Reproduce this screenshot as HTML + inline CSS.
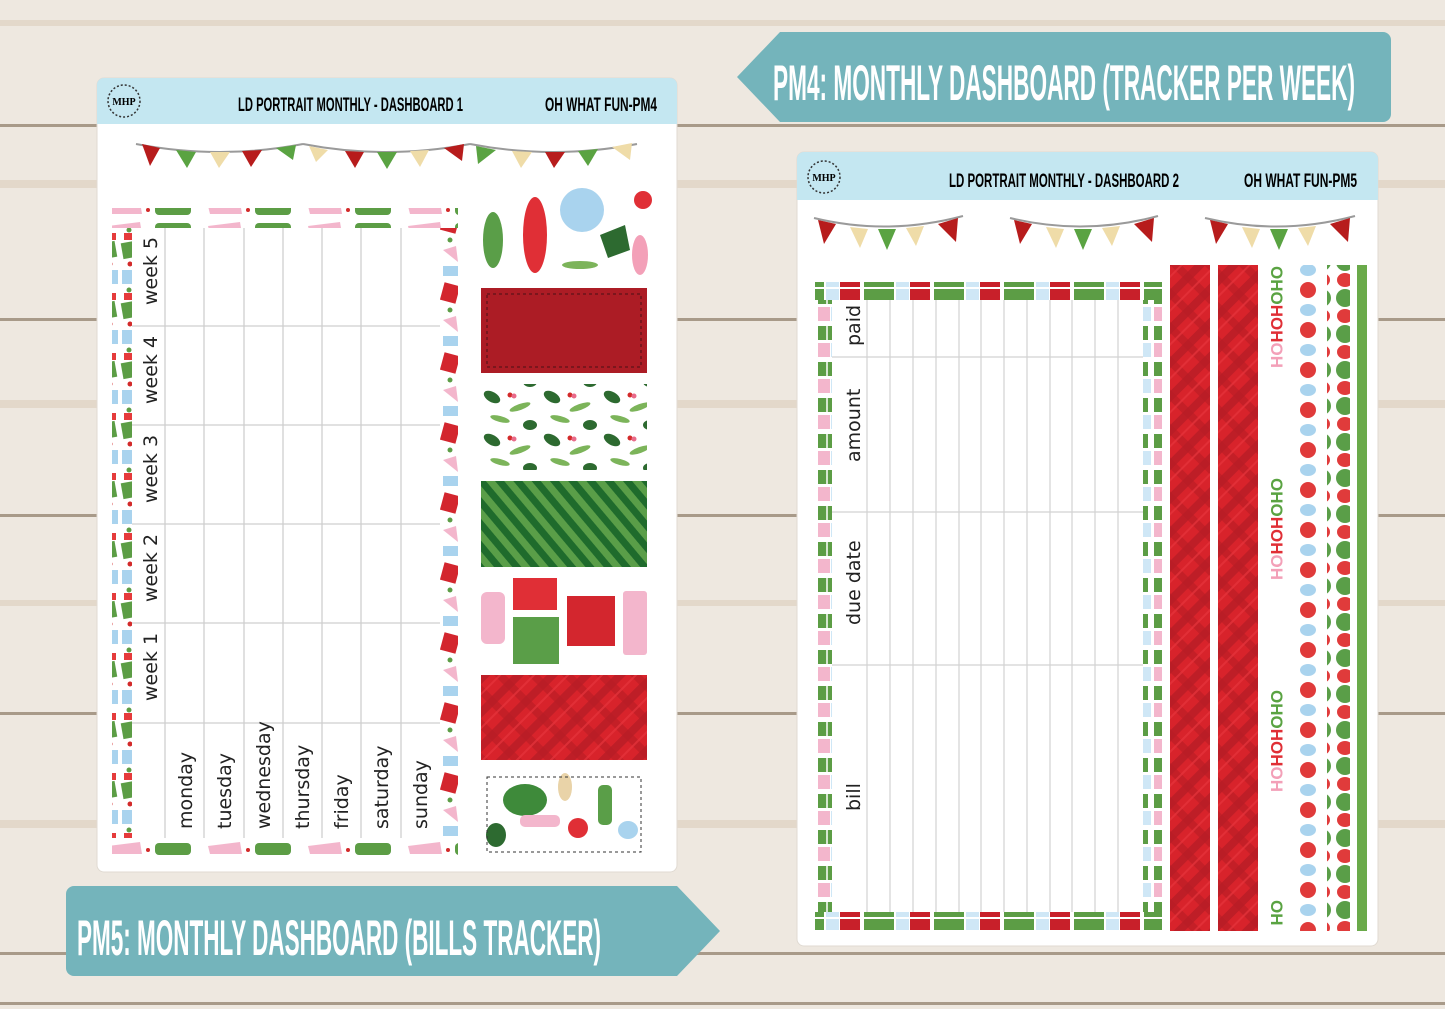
<!DOCTYPE html>
<html><head><meta charset="utf-8"><style>
html,body{margin:0;padding:0;background:#eee7dd}
svg{display:block}
.h{font-family:"Liberation Sans Narrow","Liberation Sans",sans-serif;}
.w{font-family:"DejaVu Sans","Liberation Sans",sans-serif;font-size:19px;fill:#222}
</style></head><body>
<svg width="1445" height="1009" viewBox="0 0 1445 1009" xmlns="http://www.w3.org/2000/svg">
<defs>
<pattern id="plaid" width="24" height="24" patternUnits="userSpaceOnUse" patternTransform="rotate(45)">
<rect width="24" height="24" fill="#d8232b"/>
<rect width="8" height="24" fill="#b81d25" opacity=".8"/>
<rect width="24" height="8" fill="#b81d25" opacity=".6"/>
<rect x="14" width="2" height="24" fill="#e8353c" opacity=".7"/>
</pattern>
<pattern id="stripe" width="14" height="14" patternUnits="userSpaceOnUse" patternTransform="rotate(-40)">
<rect width="14" height="14" fill="#5a9e48"/><rect width="7" height="14" fill="#1f6b2c"/>
</pattern>
<pattern id="holly" width="60" height="43" patternUnits="userSpaceOnUse">
<rect width="60" height="43" fill="#fff"/>
<ellipse cx="12" cy="10" rx="9" ry="5" fill="#2d6a30" transform="rotate(30 12 10)"/>
<ellipse cx="40" cy="20" rx="11" ry="3" fill="#7cb45a" transform="rotate(-20 40 20)"/>
<ellipse cx="20" cy="32" rx="10" ry="3" fill="#7cb45a" transform="rotate(15 20 32)"/>
<ellipse cx="50" cy="38" rx="7" ry="5" fill="#2d6a30"/>
<circle cx="30" cy="8" r="2.5" fill="#d32a2a"/><circle cx="34" cy="9" r="2.5" fill="#e96b8a"/>
</pattern>
<pattern id="gifts" width="24" height="36" patternUnits="userSpaceOnUse">
<rect width="24" height="36" fill="#fff"/>
<rect x="2" y="2" width="18" height="14" fill="#5c9d45"/>
<rect x="2" y="19" width="12" height="14" fill="#f3b6cc"/>
<rect x="15" y="19" width="8" height="14" fill="#cfe7f6"/>
<line x1="11" y1="2" x2="11" y2="16" stroke="#fff" stroke-width="1.5"/>
</pattern>
<pattern id="giftsH" width="70" height="18" patternUnits="userSpaceOnUse">
<rect width="70" height="18" fill="#fff"/>
<rect x="0" y="1" width="20" height="16" fill="#c8202a"/>
<rect x="24" y="1" width="30" height="16" fill="#5c9d45"/>
<rect x="56" y="1" width="13" height="16" fill="#cfe7f6"/>
</pattern>
<pattern id="confH" width="100" height="20" patternUnits="userSpaceOnUse">
<rect width="100" height="20" fill="#fff"/>
<path d="M8 6 L40 2 L42 14 L10 14 Z" fill="#f3b6cc"/>
<rect x="55" y="3" width="36" height="12" rx="4" fill="#5c9d45"/>
<circle cx="48" cy="10" r="2" fill="#d32a2a"/>
</pattern>
<pattern id="confV" width="20" height="60" patternUnits="userSpaceOnUse">
<rect width="20" height="60" fill="#fff"/>
<rect x="2" y="2" width="14" height="16" fill="#5c9d45" transform="rotate(-10 9 10)"/>
<circle cx="10" cy="24" r="2.5" fill="#d32a2a"/>
<rect x="2" y="30" width="16" height="14" fill="#a9d3ee"/>
<circle cx="9" cy="50" r="2.5" fill="#5c9d45"/>
<rect x="4" y="53" width="12" height="7" fill="#e53b3b"/>
</pattern>
<pattern id="confV2" width="20" height="70" patternUnits="userSpaceOnUse">
<rect width="20" height="70" fill="#fff"/>
<rect x="2" y="4" width="16" height="18" fill="#d3262e" transform="rotate(15 10 13)"/>
<circle cx="10" cy="30" r="2.5" fill="#5c9d45"/>
<path d="M3 40 L16 36 L18 52 Z" fill="#f3b6cc"/>
<rect x="3" y="56" width="15" height="10" fill="#a9d3ee"/>
</pattern>
<pattern id="orn" width="24" height="40" patternUnits="userSpaceOnUse">
<rect width="24" height="40" fill="#fff"/>
<circle cx="12" cy="10" r="8" fill="#e03b3b"/>
<ellipse cx="12" cy="30" rx="8" ry="6" fill="#a9d3ee"/>
</pattern>
<pattern id="holl2" width="23" height="36" patternUnits="userSpaceOnUse">
<rect width="23" height="36" fill="#fff"/>
<circle cx="11" cy="10" r="9" fill="#5a9e48"/>
<ellipse cx="11" cy="28" rx="8" ry="7" fill="#e03b3b"/>
</pattern>
</defs>

<rect width="1445" height="1009" fill="#eee8e0"/>
<g fill="#e3d8ca">
<rect y="20" width="1445" height="6"/><rect y="180" width="1445" height="8"/><rect y="400" width="1445" height="8"/><rect y="600" width="1445" height="6"/><rect y="820" width="1445" height="8"/>
</g>
<g fill="#a89a89">
<rect y="124" width="1445" height="3"/><rect y="318" width="1445" height="3"/><rect y="514" width="1445" height="3"/><rect y="712" width="1445" height="3"/><rect y="952" width="1445" height="3"/><rect y="1002" width="1445" height="3"/>
</g>

<rect x="97" y="78" width="580" height="794" rx="7" fill="#fff" stroke="#e0dad2"/>
<path d="M104 78 H670 a7 7 0 0 1 7 7 V124 H97 V85 a7 7 0 0 1 7 -7Z" fill="#c4e7f1"/>
<circle cx="124" cy="101" r="16" fill="none" stroke="#333" stroke-width="1.5" stroke-dasharray="2 2"/>
<text x="124" y="105" font-family="Liberation Serif" font-weight="bold" font-size="10" text-anchor="middle">MHP</text>
<text class="h" x="238" y="111" font-size="19" font-weight="bold" textLength="225" lengthAdjust="spacingAndGlyphs">LD PORTRAIT MONTHLY - DASHBOARD 1</text>
<text class="h" x="545" y="111" font-size="19" font-weight="bold" textLength="112" lengthAdjust="spacingAndGlyphs">OH WHAT FUN-PM4</text>

<g fill="none" stroke="#9a9a9a" stroke-width="2">
<path d="M136 144 Q220 160 303 144"/><path d="M303 144 Q386 160 470 144"/><path d="M470 144 Q553 160 637 144"/>
</g>
<g>
<polygon points="142,144 160,148 150,166" fill="#b71c1c"/>
<polygon points="176,150 196,152 187,168" fill="#5aa342"/>
<polygon points="210,152 230,152 219,168" fill="#efdca8"/>
<polygon points="242,151 262,150 251,167" fill="#b71c1c"/>
<polygon points="276,148 296,145 293,160" fill="#5aa342"/>
<polygon points="309,146 328,150 316,162" fill="#efdca8"/>
<polygon points="345,151 364,152 355,168" fill="#b71c1c"/>
<polygon points="377,152 397,152 387,169" fill="#5aa342"/>
<polygon points="410,151 429,150 420,167" fill="#efdca8"/>
<polygon points="444,148 464,144 462,161" fill="#b71c1c"/>
<polygon points="476,146 496,150 478,164" fill="#5aa342"/>
<polygon points="512,151 532,152 521,168" fill="#efdca8"/>
<polygon points="545,152 565,152 554,168" fill="#b71c1c"/>
<polygon points="578,151 598,149 588,166" fill="#5aa342"/>
<polygon points="612,147 632,143 630,160" fill="#efdca8"/>
</g>

<rect x="112" y="208" width="346" height="20" fill="url(#confH)"/>
<rect x="112" y="228" width="20" height="630" fill="url(#confV)"/>
<rect x="440" y="228" width="18" height="630" fill="url(#confV2)"/>
<rect x="112" y="838" width="346" height="20" fill="url(#confH)"/>
<rect x="132" y="228" width="308" height="610" fill="#fff"/>
<g stroke="#cfcfcf" stroke-width="1.3">
<line x1="165" y1="228" x2="165" y2="838"/><line x1="204" y1="228" x2="204" y2="838"/><line x1="244" y1="228" x2="244" y2="838"/><line x1="283" y1="228" x2="283" y2="838"/><line x1="322" y1="228" x2="322" y2="838"/><line x1="361" y1="228" x2="361" y2="838"/><line x1="401" y1="228" x2="401" y2="838"/>
<line x1="132" y1="326" x2="440" y2="326"/><line x1="132" y1="425" x2="440" y2="425"/><line x1="132" y1="524" x2="440" y2="524"/><line x1="132" y1="623" x2="440" y2="623"/><line x1="132" y1="723" x2="440" y2="723"/>
</g>
<g class="w">
<text transform="translate(157,305) rotate(-90)">week 5</text>
<text transform="translate(157,404) rotate(-90)">week 4</text>
<text transform="translate(157,503) rotate(-90)">week 3</text>
<text transform="translate(157,602) rotate(-90)">week 2</text>
<text transform="translate(157,701) rotate(-90)">week 1</text>
<text transform="translate(192,829) rotate(-90)">monday</text>
<text transform="translate(231,829) rotate(-90)">tuesday</text>
<text transform="translate(270,829) rotate(-90)">wednesday</text>
<text transform="translate(309,829) rotate(-90)">thursday</text>
<text transform="translate(348,829) rotate(-90)">friday</text>
<text transform="translate(388,829) rotate(-90)">saturday</text>
<text transform="translate(427,829) rotate(-90)">sunday</text>
</g>

<rect x="481" y="190" width="166" height="87" fill="#fff"/>
<ellipse cx="535" cy="235" rx="12" ry="38" fill="#e02f36"/>
<circle cx="582" cy="210" r="22" fill="#a9d3ee"/>
<ellipse cx="493" cy="240" rx="10" ry="28" fill="#5a9e48"/>
<path d="M600 235 L625 225 L630 250 L608 258 Z" fill="#2d6a30"/>
<ellipse cx="640" cy="255" rx="8" ry="20" fill="#f3a0b8"/>
<circle cx="643" cy="200" r="9" fill="#e02f36"/>
<ellipse cx="580" cy="265" rx="18" ry="4" fill="#7cb45a"/>
<rect x="481" y="288" width="166" height="85" fill="#ac1c25"/>
<rect x="487" y="294" width="154" height="73" fill="none" stroke="#4a1015" stroke-dasharray="3 3"/>
<rect x="481" y="384" width="166" height="86" fill="url(#holly)"/>
<rect x="481" y="481" width="166" height="86" fill="url(#stripe)"/>
<rect x="481" y="578" width="166" height="86" fill="#fff"/>
<rect x="481" y="592" width="24" height="52" rx="6" fill="#f3b6cc"/>
<rect x="513" y="578" width="44" height="32" fill="#e02f36"/>
<rect x="513" y="617" width="46" height="47" fill="#5a9e48"/>
<rect x="567" y="596" width="48" height="50" fill="#d3262e"/>
<rect x="623" y="591" width="24" height="64" rx="3" fill="#f3b6cc"/>
<rect x="481" y="675" width="166" height="85" fill="url(#plaid)"/>
<rect x="481" y="771" width="166" height="86" fill="#fff"/>
<ellipse cx="525" cy="800" rx="22" ry="16" fill="#3e8a3a"/>
<rect x="520" y="815" width="40" height="12" rx="5" fill="#f3b6cc"/>
<circle cx="578" cy="828" r="10" fill="#e02f36"/>
<rect x="598" y="785" width="14" height="40" rx="5" fill="#5a9e48"/>
<ellipse cx="628" cy="830" rx="10" ry="9" fill="#a9d3ee"/>
<ellipse cx="496" cy="835" rx="10" ry="12" fill="#2d6a30"/>
<ellipse cx="565" cy="787" rx="7" ry="14" fill="#e9d3a8"/>
<rect x="487" y="777" width="154" height="75" fill="none" stroke="#333" stroke-dasharray="3 3"/>

<rect x="797" y="152" width="581" height="794" rx="7" fill="#fff" stroke="#e0dad2"/>
<path d="M804 152 H1371 a7 7 0 0 1 7 7 V200 H797 V159 a7 7 0 0 1 7 -7Z" fill="#c4e7f1"/>
<circle cx="824" cy="177" r="16" fill="none" stroke="#333" stroke-width="1.5" stroke-dasharray="2 2"/>
<text x="824" y="181" font-family="Liberation Serif" font-weight="bold" font-size="10" text-anchor="middle">MHP</text>
<text class="h" x="949" y="187" font-size="19" font-weight="bold" textLength="230" lengthAdjust="spacingAndGlyphs">LD PORTRAIT  MONTHLY - DASHBOARD 2</text>
<text class="h" x="1244" y="187" font-size="19" font-weight="bold" textLength="113" lengthAdjust="spacingAndGlyphs">OH WHAT FUN-PM5</text>

<g fill="none" stroke="#9a9a9a" stroke-width="2">
<path d="M814 218 Q888 236 963 216"/><path d="M1010 218 Q1084 236 1158 216"/><path d="M1205 218 Q1280 236 1355 216"/>
</g>
<g id="bun">
<polygon points="818,220 836,224 824,244" fill="#b71c1c"/>
<polygon points="850,227 868,229 860,248" fill="#efdca8"/>
<polygon points="878,229 896,229 887,250" fill="#5aa342"/>
<polygon points="906,228 924,226 916,246" fill="#efdca8"/>
<polygon points="938,224 958,218 956,242" fill="#b71c1c"/>
</g>
<use href="#bun" transform="translate(196,0)"/>
<use href="#bun" transform="translate(392,0)"/>

<rect x="815" y="282" width="347" height="18" fill="url(#giftsH)"/>
<rect x="815" y="300" width="17" height="612" fill="url(#gifts)"/>
<rect x="1143" y="300" width="19" height="612" fill="url(#gifts)"/>
<rect x="815" y="912" width="347" height="18" fill="url(#giftsH)"/>
<rect x="832" y="300" width="311" height="612" fill="#fff"/>
<g stroke="#d2d2d2" stroke-width="1.2">
<line x1="867" y1="300" x2="867" y2="912"/><line x1="890" y1="300" x2="890" y2="912"/><line x1="913" y1="300" x2="913" y2="912"/><line x1="936" y1="300" x2="936" y2="912"/><line x1="959" y1="300" x2="959" y2="912"/><line x1="981" y1="300" x2="981" y2="912"/><line x1="1004" y1="300" x2="1004" y2="912"/><line x1="1027" y1="300" x2="1027" y2="912"/><line x1="1050" y1="300" x2="1050" y2="912"/><line x1="1072" y1="300" x2="1072" y2="912"/><line x1="1095" y1="300" x2="1095" y2="912"/><line x1="1118" y1="300" x2="1118" y2="912"/>
<line x1="832" y1="357" x2="1143" y2="357"/><line x1="832" y1="512" x2="1143" y2="512"/><line x1="832" y1="665" x2="1143" y2="665"/>
</g>
<g class="w">
<text transform="translate(860,346) rotate(-90)">paid</text>
<text transform="translate(860,462) rotate(-90)">amount</text>
<text transform="translate(860,625) rotate(-90)">due date</text>
<text transform="translate(860,811) rotate(-90)">bill</text>
</g>

<rect x="1170" y="265" width="40" height="666" fill="url(#plaid)"/>
<rect x="1218" y="265" width="40" height="666" fill="url(#plaid)"/>
<rect x="1266" y="265" width="24" height="666" fill="#fff"/>
<g font-family="Liberation Sans" font-weight="bold" font-size="17">
<text transform="translate(1271,266) rotate(90)"><tspan fill="#5aa342">OHO</tspan><tspan fill="#e02f36">HOH</tspan><tspan fill="#f3a0b8">OH</tspan></text>
<text transform="translate(1271,478) rotate(90)"><tspan fill="#5aa342">OHO</tspan><tspan fill="#e02f36">HOH</tspan><tspan fill="#f3a0b8">OH</tspan></text>
<text transform="translate(1271,690) rotate(90)"><tspan fill="#5aa342">OHO</tspan><tspan fill="#e02f36">HOH</tspan><tspan fill="#f3a0b8">OH</tspan></text>
<text transform="translate(1271,900) rotate(90)"><tspan fill="#5aa342">OH</tspan></text>
</g>
<rect x="1298" y="265" width="24" height="666" fill="url(#orn)"/>
<rect x="1327" y="265" width="23" height="666" fill="url(#holl2)"/>
<rect x="1357" y="265" width="10" height="666" fill="#6aaa4a"/>

<path d="M780 32 H1383 a8 8 0 0 1 8 8 V114 a8 8 0 0 1 -8 8 H780 L737 77 Z" fill="#74b4bb"/>
<text class="h" x="773" y="100" font-size="50" font-weight="bold" fill="#fff" textLength="582" lengthAdjust="spacingAndGlyphs">PM4: MONTHLY DASHBOARD (TRACKER PER WEEK)</text>
<path d="M74 886 H677 L720 931 L677 976 H74 a8 8 0 0 1 -8 -8 V894 a8 8 0 0 1 8 -8Z" fill="#74b4bb"/>
<text class="h" x="77" y="955" font-size="50" font-weight="bold" fill="#fff" textLength="524" lengthAdjust="spacingAndGlyphs">PM5: MONTHLY DASHBOARD (BILLS TRACKER)</text>
</svg>
</body></html>
